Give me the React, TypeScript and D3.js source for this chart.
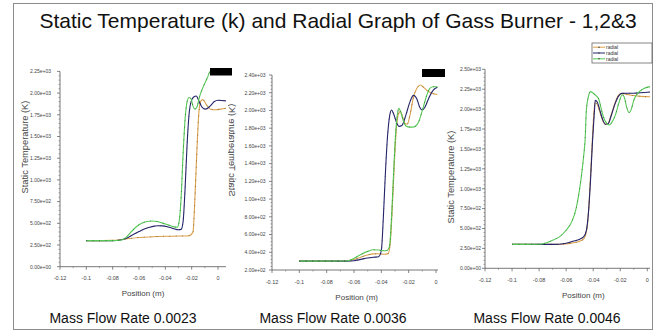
import React from "react";
import * as d3 from "d3";

type Pt = [number, number];

// Static temperature (K) against radial position (m) for each burner
const burner1Orange: Pt[] = [
  [-0.1, 300], [-0.08, 303], [-0.07, 320], [-0.06, 336], [-0.05, 345], [-0.04, 350],
  [-0.03, 353], [-0.022, 357], [-0.019, 400], [-0.0175, 800], [-0.016, 1350],
  [-0.0145, 1780], [-0.013, 1910], [-0.0115, 1925], [-0.009, 1870], [-0.006, 1818],
  [-0.002, 1808], [0.002, 1815], [0.006, 1825],
];
const burner1Blue: Pt[] = [
  [-0.1, 300], [-0.08, 300], [-0.075, 305], [-0.07, 325], [-0.065, 365], [-0.06, 405],
  [-0.055, 440], [-0.05, 462], [-0.046, 472], [-0.042, 470], [-0.038, 458], [-0.034, 440],
  [-0.03, 425], [-0.028, 430], [-0.0265, 520], [-0.025, 900], [-0.0235, 1400],
  [-0.022, 1750], [-0.0205, 1900], [-0.0185, 1955], [-0.0165, 1966], [-0.0145, 1910],
  [-0.012, 1835], [-0.0095, 1815], [-0.006, 1850], [-0.003, 1900], [0, 1918], [0.006, 1910],
];
const burner1Green: Pt[] = [
  [-0.1, 300], [-0.08, 300], [-0.074, 305], [-0.07, 335], [-0.066, 400], [-0.062, 460],
  [-0.058, 500], [-0.054, 520], [-0.05, 526], [-0.046, 520], [-0.042, 502], [-0.038, 482],
  [-0.034, 462], [-0.031, 455], [-0.0295, 520], [-0.028, 800], [-0.0265, 1300],
  [-0.025, 1700], [-0.0235, 1900], [-0.022, 1950], [-0.0205, 1935], [-0.019, 1850],
  [-0.0175, 1815], [-0.016, 1840], [-0.014, 1960], [-0.011, 2080], [-0.008, 2180],
  [-0.006, 2250], [-0.003, 2270], [0.006, 2270],
];

const burner2Orange: Pt[] = [
  [-0.1, 300], [-0.065, 302], [-0.06, 318], [-0.055, 345], [-0.05, 370], [-0.046, 382],
  [-0.042, 383], [-0.038, 378], [-0.035, 385], [-0.0335, 500], [-0.032, 900],
  [-0.0305, 1400], [-0.029, 1800], [-0.0275, 1960], [-0.026, 1990], [-0.0245, 1930],
  [-0.0225, 1850], [-0.021, 1845], [-0.019, 1950], [-0.0165, 2150], [-0.014, 2250],
  [-0.0115, 2287], [-0.009, 2260], [-0.006, 2220], [-0.003, 2195], [0.001, 2180],
];
const burner2Blue: Pt[] = [
  [-0.1, 300], [-0.065, 300], [-0.06, 305], [-0.055, 320], [-0.05, 335], [-0.046, 343],
  [-0.042, 350], [-0.04, 420], [-0.0385, 800], [-0.037, 1300], [-0.0355, 1700],
  [-0.034, 1930], [-0.0325, 2005], [-0.031, 1960], [-0.029, 1870], [-0.027, 1820],
  [-0.025, 1830], [-0.022, 1950], [-0.019, 2100], [-0.0165, 2170], [-0.014, 2130],
  [-0.012, 2040], [-0.01, 2005], [-0.008, 2040], [-0.005, 2150], [-0.002, 2230], [0.001, 2262],
];
const burner2Green: Pt[] = [
  [-0.1, 300], [-0.065, 302], [-0.06, 330], [-0.055, 375], [-0.05, 410], [-0.046, 428],
  [-0.042, 425], [-0.038, 418], [-0.036, 420], [-0.034, 470], [-0.0325, 800],
  [-0.031, 1300], [-0.0295, 1750], [-0.028, 1980], [-0.0272, 2024], [-0.026, 1990],
  [-0.024, 1890], [-0.022, 1825], [-0.019, 1812], [-0.016, 1815], [-0.013, 1860],
  [-0.01, 2000], [-0.007, 2160], [-0.0045, 2250], [-0.002, 2268], [0.001, 2268],
];

const burner3Orange: Pt[] = [
  [-0.1, 300], [-0.07, 300], [-0.06, 305], [-0.055, 320], [-0.05, 340], [-0.047, 370],
  [-0.045, 460], [-0.0435, 700], [-0.042, 1150], [-0.0405, 1650], [-0.0395, 1950],
  [-0.0385, 2080], [-0.037, 2060], [-0.035, 1960], [-0.033, 1860], [-0.031, 1810],
  [-0.029, 1820], [-0.027, 1910], [-0.024, 2070], [-0.0215, 2170], [-0.019, 2195],
  [-0.015, 2185], [-0.01, 2170], [-0.005, 2160], [0.002, 2155],
];
const burner3Blue: Pt[] = [
  [-0.1, 300], [-0.07, 300], [-0.06, 315], [-0.055, 340], [-0.05, 365], [-0.047, 397],
  [-0.045, 480], [-0.0435, 700], [-0.042, 1100], [-0.0405, 1600], [-0.039, 2000],
  [-0.0385, 2110], [-0.037, 2090], [-0.035, 1980], [-0.033, 1870], [-0.031, 1810],
  [-0.029, 1815], [-0.027, 1900], [-0.024, 2060], [-0.021, 2170], [-0.019, 2198],
  [-0.015, 2200], [-0.01, 2200], [-0.005, 2205], [0.002, 2215],
];
const burner3Green: Pt[] = [
  [-0.1, 300], [-0.08, 302], [-0.075, 318], [-0.07, 352], [-0.065, 395], [-0.06, 478],
  [-0.056, 580], [-0.0525, 760], [-0.05, 1000], [-0.0485, 1190], [-0.047, 1420],
  [-0.046, 1610], [-0.045, 2000], [-0.0435, 2160], [-0.042, 2219], [-0.04, 2200],
  [-0.038, 2170], [-0.036, 2130], [-0.034, 2000], [-0.0325, 1905], [-0.03, 1820],
  [-0.028, 1800], [-0.026, 1840], [-0.0235, 1930], [-0.021, 2080], [-0.0185, 2180],
  [-0.017, 2150], [-0.0155, 2040], [-0.0135, 1955], [-0.012, 1990], [-0.01, 2110],
  [-0.007, 2200], [-0.004, 2245], [0.002, 2282],
];

const xTicks = [-0.12, -0.1, -0.08, -0.06, -0.04, -0.02, 0];
const xTickLabels = ["-0.12", "-0.1", "-0.08", "-0.06", "-0.04", "-0.02", "0"];
const yTicksBurner1 = [0, 250, 500, 750, 1000, 1250, 1500, 1750, 2000, 2250];
const yTicksBurner2 = [200, 400, 600, 800, 1000, 1200, 1400, 1600, 1800, 2000, 2200, 2400];
const yTicksBurner3 = [0, 250, 500, 750, 1000, 1250, 1500, 1750, 2000, 2250, 2500];
const massFlowRates = ["0.0023", "0.0036", "0.0046"];
const legendLabels = ["radial", "radial", "radial"];

const TITLE = "Static Temperature (k) and Radial Graph of Gass Burner - 1,2&3";
const COLORS = ["#dca04a", "#25256e", "#55c955"];
const FONT = "'Liberation Sans', Arial, sans-serif";

const sci = (v: number) => d3.format(".2e")(v).replace(/e([+-])(\d)$/, "e$10$2");

type PanelCfg = {
  id: string;
  x0: number; x1: number; axisEnd: number;
  yTop: number; yBottom: number;
  yTicks: number[];
  labelGap: number;
  clip: [number, number];
  titleX: number; titleY: number; mirrored: boolean;
  posX: number; posY: number;
  rateX: number;
  series: Pt[][];
};

const panels: PanelCfg[] = [
  {
    id: "b1", x0: 60, x1: 218, axisEnd: 226, yTop: 71.4, yBottom: 266.7,
    yTicks: yTicksBurner1, labelGap: 9, clip: [0, 228],
    titleX: 25, titleY: 147, mirrored: false, posX: 143, posY: 296.3, rateX: 123,
    series: [burner1Orange, burner1Blue, burner1Green],
  },
  {
    id: "b2", x0: 272, x1: 436, axisEnd: 438, yTop: 75, yBottom: 270,
    yTicks: yTicksBurner2, labelGap: 6.5, clip: [228, 441],
    titleX: 232, titleY: 150, mirrored: true, posX: 356.7, posY: 299.7, rateX: 333,
    series: [burner2Orange, burner2Blue, burner2Green],
  },
  {
    id: "b3", x0: 485, x1: 647.3, axisEnd: 650, yTop: 69.3, yBottom: 268.3,
    yTicks: yTicksBurner3, labelGap: 4, clip: [441, 652],
    titleX: 450.7, titleY: 177, mirrored: false, posX: 583.3, posY: 298, rateX: 547,
    series: [burner3Orange, burner3Blue, burner3Green],
  },
];

function Panel({ cfg }: { cfg: PanelCfg }) {
  const x = d3.scaleLinear().domain([-0.12, 0]).range([cfg.x0, cfg.x1]);
  const yMin = cfg.yTicks[0];
  const yMax = cfg.yTicks[cfg.yTicks.length - 1];
  const y = d3.scaleLinear().domain([yMin, yMax]).range([cfg.yBottom, cfg.yTop]);
  const line = d3.line<Pt>().x((d) => x(d[0])).y((d) => y(d[1])).curve(d3.curveMonotoneX);
  const step = cfg.yTicks[1] - cfg.yTicks[0];
  const yMinor: number[] = [];
  for (let i = 0; i < cfg.yTicks.length - 1; i++) {
    for (let k = 1; k < 5; k++) yMinor.push(cfg.yTicks[i] + (step * k) / 5);
  }
  const xMinor = d3.range(-0.11, 0.001, 0.02);
  const axisColor = "#555";
  const titleTransform = cfg.mirrored
    ? `translate(${cfg.titleX},${cfg.titleY}) rotate(-90) scale(1,-1)`
    : `translate(${cfg.titleX},${cfg.titleY}) rotate(-90)`;

  return (
    <g clipPath={`url(#clip-${cfg.id})`}>
      <defs>
        <clipPath id={`clip-${cfg.id}`}>
          <rect x={cfg.clip[0]} y={30} width={cfg.clip[1] - cfg.clip[0]} height={275} />
        </clipPath>
      </defs>
      {/* axes */}
      <line x1={cfg.x0} x2={cfg.x0} y1={cfg.yTop} y2={cfg.yBottom} stroke={axisColor} strokeWidth={0.8} />
      <line x1={cfg.x0} x2={cfg.axisEnd} y1={cfg.yBottom} y2={cfg.yBottom} stroke={axisColor} strokeWidth={0.8} />
      {cfg.yTicks.map((t) => (
        <g key={`yt${t}`}>
          <line x1={cfg.x0 - 3} x2={cfg.x0} y1={y(t)} y2={y(t)} stroke={axisColor} strokeWidth={0.7} />
          <text x={cfg.x0 - cfg.labelGap} y={y(t) + 1.8} fontSize={5} textAnchor="end" fill="#444" fontFamily={FONT}>
            {sci(t)}
          </text>
        </g>
      ))}
      {yMinor.map((t) => (
        <line key={`ym${t}`} x1={cfg.x0 - 1.5} x2={cfg.x0} y1={y(t)} y2={y(t)} stroke={axisColor} strokeWidth={0.5} />
      ))}
      {xTicks.map((t, i) => (
        <g key={`xt${t}`}>
          <line x1={x(t)} x2={x(t)} y1={cfg.yBottom} y2={cfg.yBottom + 3} stroke={axisColor} strokeWidth={0.7} />
          <text x={x(t)} y={cfg.yBottom + 13.5} fontSize={5.5} textAnchor="middle" fill="#444" fontFamily={FONT}>
            {xTickLabels[i]}
          </text>
        </g>
      ))}
      {xMinor.map((t) => (
        <line key={`xm${t}`} x1={x(t)} x2={x(t)} y1={cfg.yBottom} y2={cfg.yBottom + 1.5} stroke={axisColor} strokeWidth={0.5} />
      ))}
      <text x={cfg.posX} y={cfg.posY} fontSize={8} textAnchor="middle" fill="#444" fontFamily={FONT}>
        Position (m)
      </text>
      <text transform={titleTransform} fontSize={9.3} textAnchor="middle" dominantBaseline="central" fill="#444" fontFamily={FONT}>
        Static Temperature (K)
      </text>
      {/* curves */}
      {cfg.series.map((s, i) => (
        <g key={`s${i}`}>
          <path d={line(s) ?? ""} fill="none" stroke={COLORS[i]} strokeWidth={1.1} />
          <path d={line(s) ?? ""} fill="none" stroke="#222" strokeOpacity={0.45} strokeWidth={1} strokeDasharray="0.9 5.5" />
        </g>
      ))}
    </g>
  );
}

export default function App() {
  return (
    <svg width={658} height={333} style={{ display: "block", position: "absolute", left: 0, top: 0 }}>
      <rect x={0} y={0} width={658} height={333} fill="#fff" />
      <rect x={13.5} y={3.5} width={639} height={326} fill="none" stroke="#8c8c8c" strokeWidth={1} />
      <text x={338} y={27.5} fontSize={21} textAnchor="middle" fill="#111" fontFamily={FONT}>
        {TITLE}
      </text>
      {panels.map((p) => (
        <Panel key={p.id} cfg={p} />
      ))}
      {/* covered legend areas */}
      <rect x={210} y={68} width={22} height={7.5} fill="#000" />
      <rect x={422} y={69} width={23} height={8} fill="#000" />
      {/* legend */}
      <g>
        <rect x={592} y={43} width={60} height={20} fill="#fff" stroke="#666" strokeWidth={0.8} />
        {legendLabels.map((lab, i) => {
          const cy = 47.2 + i * 5.8;
          return (
            <g key={`lg${i}`}>
              <line x1={593} x2={605} y1={cy} y2={cy} stroke={COLORS[i]} strokeWidth={1} />
              <circle cx={599} cy={cy} r={0.7} fill="#333" />
              <text x={606} y={cy + 1.8} fontSize={5} fill="#333" fontFamily={FONT}>
                {lab}
              </text>
            </g>
          );
        })}
      </g>
      {panels.map((p, i) => (
        <text key={`mf${p.id}`} x={p.rateX} y={323} fontSize={14} textAnchor="middle" fill="#111" fontFamily={FONT}>
          {`Mass Flow Rate ${massFlowRates[i]}`}
        </text>
      ))}
    </svg>
  );
}
